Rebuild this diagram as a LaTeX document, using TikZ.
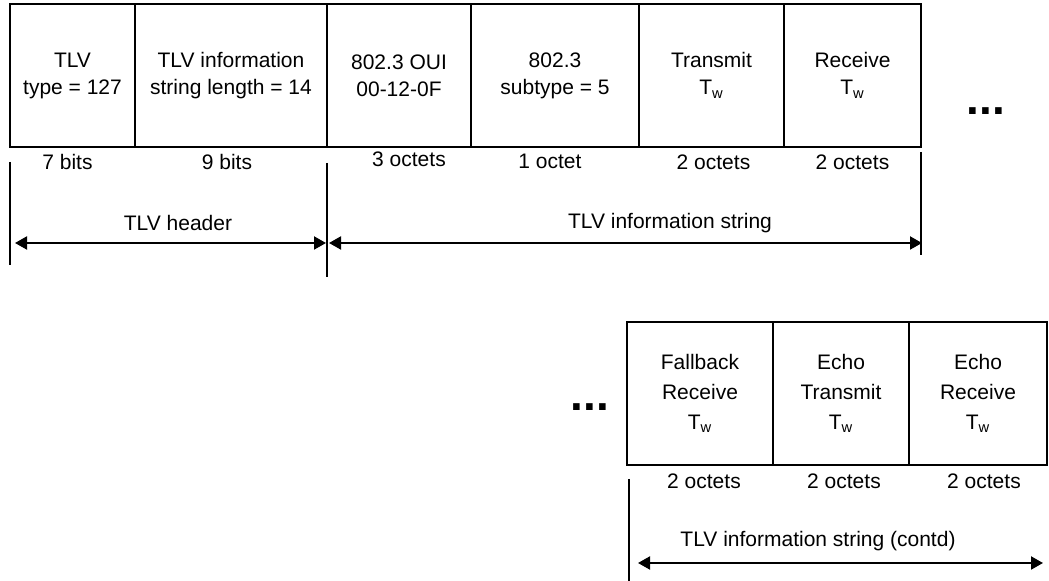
\documentclass[tikz,border=0pt]{standalone}
\usepackage{fontspec}
\setmainfont{Liberation Sans}
\usetikzlibrary{positioning,arrows.meta}

\begin{document}
\begin{tikzpicture}[x=0.5pt, y=-0.5pt,
  field/.style={draw, line width=1pt, minimum height=71.5pt, text centered, align=center, inner sep=0pt, outer sep=0pt, font=\fontsize{10.5}{13.5}\selectfont},
  field2/.style={field, font=\fontsize{10.5}{15}\selectfont},
  size/.style={inner sep=0pt, font=\fontsize{10.5}{12}\selectfont},
  dots/.style={inner sep=0pt, font=\fontsize{23}{23}\selectfont\bfseries},
  >={Triangle[length=6pt, width=6.5pt]}]
\useasboundingbox (0,0) rectangle (1049,581);
% nodes %

\node[field, minimum width=62.5pt, anchor=north west] (tlvtype) at (10,4) {TLV\\type = 127};
\node[field, minimum width=96pt, right=0pt of tlvtype] (tlvlen) {TLV information\\string length = 14};
\node[field, minimum width=72pt, right=0pt of tlvlen] (oui) {802.3 OUI\\00-12-0F};
\node[field, minimum width=84pt, right=0pt of oui] (subtype) {802.3\\subtype = 5};
\node[field, minimum width=72.5pt, right=0pt of subtype] (txtw) {Transmit\\T\textsubscript{w}};
\node[field, minimum width=68.5pt, right=0pt of txtw] (rxtw) {Receive\\T\textsubscript{w}};
\node[dots] (more1) at (986,111) {...};

\node[size, below=3.5pt of tlvtype, xshift=-2.5pt] (s1) {7 bits};
\node[size, below=3.5pt of tlvlen, xshift=-2pt] (s2) {9 bits};
\node[size, below=2pt of oui, xshift=5pt] (s3) {3 octets};
\node[size, below=3.5pt of subtype, xshift=-2.5pt] (s4) {1 octet};
\node[size, below=3.5pt of txtw, xshift=1pt] (s5) {2 octets};
\node[size, below=3.5pt of rxtw] (s6) {2 octets};

\node[size] (hdr) at (178,223) {TLV header};
\node[size] (info) at (670,223) {TLV information string};

\node[dots] (more2) at (590,407) {...};
\node[field2, minimum width=73pt, anchor=north west] (fbrx) at (627,322) {Fallback\\Receive\\T\textsubscript{w}};
\node[field2, minimum width=68pt, right=0pt of fbrx] (echotx) {Echo\\Transmit\\T\textsubscript{w}};
\node[field2, minimum width=69pt, right=0pt of echotx] (echorx) {Echo\\Receive\\T\textsubscript{w}};

\node[size, below=4pt of fbrx, xshift=2pt] (s7) {2 octets};
\node[size, below=4pt of echotx, xshift=1.5pt] (s8) {2 octets};
\node[size, below=4pt of echorx, xshift=3pt] (s9) {2 octets};

\node[size] (contd) at (818,541) {TLV information string (contd)};

\coordinate (l1) at (10,162);   \coordinate (l2) at (10,265);
\coordinate (m1) at (327,163);  \coordinate (m2) at (327,277);
\coordinate (r1) at (921,152);  \coordinate (r2) at (921,255);
\coordinate (b1) at (629,479);  \coordinate (b2) at (629,581);
\coordinate (a1) at (15,243);   \coordinate (a2) at (326,243);
\coordinate (a3) at (329,243);  \coordinate (a4) at (922,243);
\coordinate (a5) at (638,563);  \coordinate (a6) at (1043,563);

% edges %
\draw[line width= 1] (l1) -- (l2);
\draw[line width= 1] (m1) -- (m2);
\draw[line width= 1] (r1) -- (r2);
\draw[line width= 1] (b1) -- (b2);
\draw[<->, line width= 1] (a1) -- (a2);
\draw[<->, line width= 1] (a3) -- (a4);
\draw[<->, line width= 1] (a5) -- (a6);

\end{tikzpicture}
\end{document}
